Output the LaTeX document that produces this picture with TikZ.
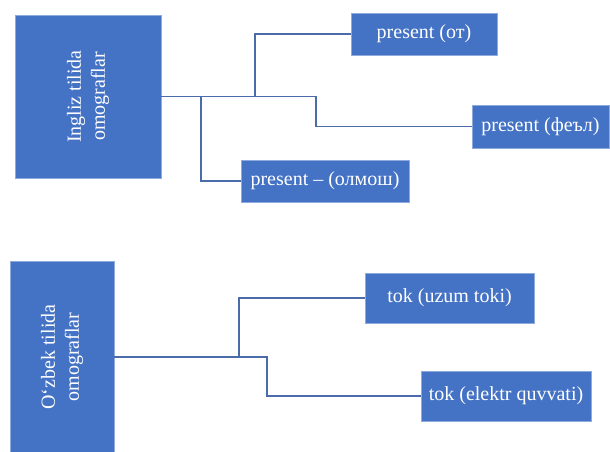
\documentclass[tikz,border=0pt]{standalone}
\usepackage{fontspec}
\setmainfont{Liberation Serif}
\begin{document}
\begin{tikzpicture}[x=1pt,y=1pt,
  box/.style={draw=boxedge,line width=0.6pt,fill=boxfill,text=white,inner sep=0pt,font=\fontsize{20}{24}\selectfont},
  link/.style={draw=linkcolor,line width=1.2pt}]
  \definecolor{boxfill}{HTML}{4472C4}
  \definecolor{boxedge}{HTML}{8FAADC}
  \definecolor{linkcolor}{HTML}{4A6CAA}
  \useasboundingbox (0,0) rectangle (610,-451);
  \node [box,minimum width=146pt,minimum height=163pt] (ingliz) at (88,-96.5) {\rotatebox{90}{\begin{tabular}{@{}c@{}}Ingliz tilida\\omograflar\end{tabular}}};
  \node [box,minimum width=146pt,minimum height=42pt] (ot) at (424,-34) {present (от)};
  \node [box,minimum width=137pt,minimum height=43pt] (fel) at (540.5,-126.5) {present (феъл)};
  \node [box,minimum width=168pt,minimum height=42pt] (olmosh) at (325,-181) {present -- (олмош)};
  \coordinate (j1) at (255,-96.5);
  \coordinate (j2) at (316,-96.5);
  \coordinate (j3) at (201,-96.5);
  \draw [link] (ingliz.east) -- (j2) |- (fel.west);
  \draw [link] (j1) |- (ot.west);
  \draw [link] (j3) |- (olmosh.west);
  \node [box,minimum width=104pt,minimum height=192pt] (ozbek) at (62,-357) {\rotatebox{90}{\begin{tabular}{@{}c@{}}O‘zbek tilida\\omograflar\end{tabular}}};
  \node [box,minimum width=169pt,minimum height=50pt] (uzum) at (449.5,-298) {tok (uzum toki)};
  \node [box,minimum width=170pt,minimum height=50pt] (elektr) at (506,-396) {tok (elektr quvvati)};
  \coordinate (k1) at (239,-357);
  \coordinate (k2) at (267,-357);
  \draw [link] (ozbek.east) -- (k2) |- (elektr.west);
  \draw [link] (k1) |- (uzum.west);
\end{tikzpicture}
\end{document}
